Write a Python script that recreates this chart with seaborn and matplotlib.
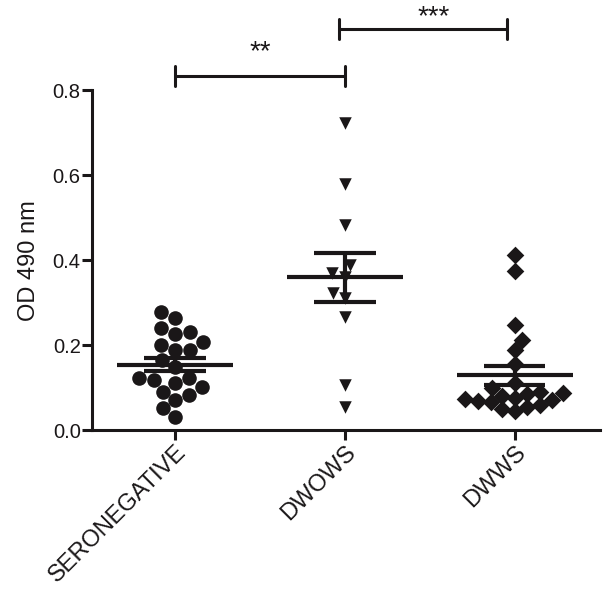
import numpy as np
import pandas as pd
import matplotlib
matplotlib.use('Agg')
import matplotlib.pyplot as plt
import seaborn as sns

# OD 490 nm readings per group
groups = ['SERONEGATIVE', 'DWOWS', 'DWWS']
seronegative = [0.278, 0.263, 0.240, 0.231, 0.227, 0.208, 0.200, 0.188, 0.188,
                0.165, 0.148, 0.122, 0.122, 0.118, 0.110, 0.102, 0.090, 0.082,
                0.070, 0.051, 0.031]
dwows = [0.722, 0.580, 0.482, 0.388, 0.369, 0.361, 0.322, 0.310, 0.267,
         0.106, 0.055]
dwws = [0.412, 0.375, 0.247, 0.213, 0.188, 0.155, 0.110, 0.100, 0.090, 0.088,
        0.085, 0.080, 0.075, 0.072, 0.070, 0.068, 0.065, 0.060, 0.055, 0.050,
        0.045]
markers = ['o', 'v', 'D']
sizes = [10.5, 9, 9]

# significance brackets: (left, right, height, label, label_x, label_y)
brackets = [(0.0, 1.0, 0.833, '**', 0.5, 0.89),
            (0.965, 1.953, 0.944, '***', 1.52, 0.972)]

df = pd.DataFrame({
    'group': ['SERONEGATIVE'] * len(seronegative) + ['DWOWS'] * len(dwows) + ['DWWS'] * len(dwws),
    'od': seronegative + dwows + dwws,
})

sns.set_style('ticks')
plt.rcParams['font.family'] = ['Liberation Sans', 'DejaVu Sans']
ink = '#1a1718'

fig = plt.figure(figsize=(6.04, 5.94), dpi=100)
ax = fig.add_axes([0.152, 0.276, 0.841, 0.572])

for g, m, s in zip(groups, markers, sizes):
    sns.swarmplot(data=df[df['group'] == g], x='group', y='od', order=groups,
                  marker=m, size=s, color=ink, linewidth=0, ax=ax, clip_on=False,
                  zorder=2)

# mean +/- SEM
for i, g in enumerate(groups):
    vals = np.array(df.loc[df['group'] == g, 'od'])
    mean = vals.mean()
    sem = vals.std(ddof=1) / np.sqrt(len(vals))
    ax.hlines(mean, i - 0.34, i + 0.34, color=ink, lw=3, zorder=3)
    ax.hlines([mean - sem, mean + sem], i - 0.18, i + 0.18, color=ink, lw=3, zorder=3)
    ax.vlines(i, mean - sem, mean + sem, color=ink, lw=3, zorder=3)

for x0, x1, y, lab, lx, ly in brackets:
    ax.plot([x0, x1], [y, y], color=ink, lw=2.2, clip_on=False)
    ax.plot([x0, x0], [y - 0.024, y + 0.024], color=ink, lw=2.2, clip_on=False)
    ax.plot([x1, x1], [y - 0.024, y + 0.024], color=ink, lw=2.2, clip_on=False)
    ax.text(lx, ly, lab, ha='center', va='center', fontsize=20, color=ink)

ax.set_xlim(-0.49, 2.5)
ax.set_ylim(0, 0.8)
ax.set_yticks([0.0, 0.2, 0.4, 0.6, 0.8])
ax.set_yticklabels(['0.0', '0.2', '0.4', '0.6', '0.8'], fontsize=14.5, color=ink)
ax.set_xticks(range(len(groups)))
ax.set_xticklabels(groups, fontsize=17, rotation=45, ha='right', va='top',
                   rotation_mode='anchor', color=ink)
ax.set_xlabel('')
ax.set_ylabel('OD 490 nm', fontsize=17, color=ink, labelpad=9)

sns.despine(ax=ax)
for side in ['left', 'bottom']:
    ax.spines[side].set_linewidth(2.2)
    ax.spines[side].set_color(ink)
ax.tick_params(axis='both', length=7, width=2.2, color=ink, pad=1)

plt.savefig('out.png', dpi=100)
